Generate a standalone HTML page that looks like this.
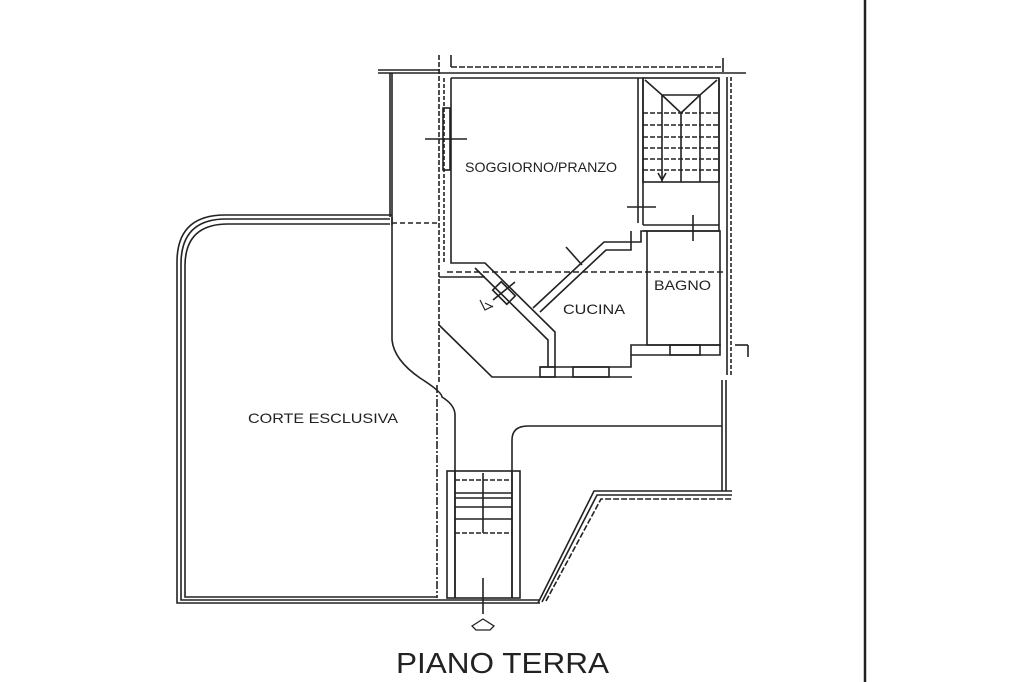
<!DOCTYPE html>
<html><head><meta charset="utf-8"><style>
html,body{margin:0;padding:0;background:#fff;}
svg{display:block;}
text{font-family:"Liberation Sans",sans-serif;fill:#222;}
</style></head><body>
<svg width="1024" height="682" viewBox="0 0 1024 682" xmlns="http://www.w3.org/2000/svg">
<g fill="none" stroke="#222" stroke-width="1.6">
<line x1="865" y1="0" x2="865" y2="682" stroke-width="2.5"/>
<line x1="378" y1="73" x2="746" y2="73"/>
<line x1="378" y1="70" x2="440" y2="70"/>
<line x1="451" y1="67" x2="723" y2="67" stroke-dasharray="6 2"/>
<line x1="451" y1="55" x2="451" y2="67"/>
<line x1="723" y1="58" x2="723" y2="72"/>
<line x1="439" y1="55" x2="439" y2="383" stroke-dasharray="5 2"/>
<line x1="444" y1="78" x2="444" y2="263" stroke-dasharray="4 2"/>
<line x1="392" y1="73" x2="392" y2="340"/>
<line x1="390" y1="73" x2="390" y2="217"/>
<path d="M392 340 Q394 360 420 378 Q442 392 442 397 Q455 405 455 415 L455 598"/>
<path d="M451 78 L451 263 L468 263"/>
<path d="M451 78 L643 78 L643 225"/>
<path d="M638 78 L638 223"/>
<rect x="443" y="108" width="7" height="62"/>
<line x1="425" y1="139" x2="467" y2="139"/>
<line x1="627" y1="207" x2="656" y2="207"/>
<line x1="392" y1="223" x2="440" y2="223" stroke-dasharray="5 3"/>
<line x1="447" y1="272" x2="725" y2="272" stroke-dasharray="6 3"/>
<rect x="643" y="78" width="76" height="104"/>
<line x1="643" y1="225" x2="719" y2="225"/>
<line x1="643" y1="231" x2="719" y2="231"/>
<line x1="719" y1="78" x2="719" y2="231"/>
<g stroke-dasharray="5 2">
<line x1="643" y1="113" x2="719" y2="113"/>
<line x1="643" y1="125" x2="719" y2="125"/>
<line x1="643" y1="137" x2="719" y2="137"/>
<line x1="643" y1="148" x2="719" y2="148"/>
<line x1="643" y1="159" x2="719" y2="159"/>
<line x1="643" y1="170" x2="719" y2="170"/>
</g>
<line x1="662" y1="95" x2="662" y2="182"/>
<line x1="681" y1="113" x2="681" y2="182"/>
<line x1="700" y1="95" x2="700" y2="182"/>
<path d="M645 80 L662 95 L700 95 L717 80"/>
<path d="M662 95 L681 113 L700 95"/>
<path d="M658 173 L662 180 L666 173"/>
<line x1="693" y1="215" x2="693" y2="241"/>
<line x1="727" y1="77" x2="727" y2="375"/>
<line x1="731" y1="77" x2="731" y2="375" stroke-dasharray="4 2"/>
<line x1="735" y1="345" x2="748" y2="345"/>
<line x1="748" y1="345" x2="748" y2="357"/>
<rect x="647" y="231" width="73" height="114"/>
<path d="M631 355 L631 345 L720 345 L720 355 L631 355"/>
<rect x="670" y="345" width="30" height="10"/>
<path d="M468 263 L485 263 L555 332 L555 367"/>
<path d="M475 268 L548 340 L548 367"/>
<rect x="498" y="283" width="12" height="20" transform="rotate(-45 504 293)"/>
<line x1="493" y1="300" x2="515" y2="282"/>
<path d="M533 308 L604 242 L641 242 L641 231 L647 231"/>
<path d="M540 312 L606 250 L631 250 L631 231"/>
<line x1="566" y1="247" x2="582" y2="265"/>
<path d="M540 367 L631 367 L631 355"/>
<path d="M540 377 L632 377"/>
<rect x="540" y="367" width="15" height="10"/>
<rect x="573" y="367" width="36" height="10"/>
<path d="M439 277 L485 277"/>
<path d="M439 325 L492 377 L540 377"/>
<path d="M480 300 l5 10 l8 -4 M485 303 l8 4" stroke-width="1.2"/>
<path d="M392 215 L225 215 Q177 215 177 262 L177 603 L540 603"/>
<path d="M390 219 L226 219 Q181 219 181 264 L181 600 L540 600"/>
<path d="M390 224 L228 224 Q185 224 185 266 L185 597 L437 597"/>
<line x1="392" y1="217" x2="392" y2="225"/>
<path d="M538 603 L594 491 L732 491"/>
<path d="M542 602 L597 495 L732 495"/>
<path d="M546 601 L601 499 L732 499" stroke-dasharray="6 2"/>
<line x1="722" y1="380" x2="722" y2="491"/>
<line x1="726" y1="380" x2="726" y2="491"/>
<path d="M512 598 L512 440 Q512 426 528 426 L722 426"/>
<line x1="437" y1="385" x2="437" y2="598" stroke-dasharray="8 2 2 2"/>
<rect x="447" y="471" width="73" height="127"/>
<line x1="455" y1="471" x2="455" y2="598"/>
<line x1="512" y1="471" x2="512" y2="598"/>
<line x1="455" y1="480" x2="512" y2="480" stroke-dasharray="5 2"/>
<line x1="455" y1="493" x2="512" y2="493"/>
<line x1="455" y1="498" x2="512" y2="498"/>
<line x1="455" y1="507" x2="512" y2="507"/>
<line x1="455" y1="519" x2="512" y2="519"/>
<line x1="455" y1="533" x2="512" y2="533" stroke-dasharray="5 2"/>
<line x1="483" y1="473" x2="483" y2="533"/>
<line x1="483" y1="578" x2="483" y2="614"/>
<path d="M472 626 L483 619 L494 626 L490 630 L476 630 Z" stroke-width="1.3"/>
</g>
<text x="465" y="172" font-size="14" textLength="152" lengthAdjust="spacingAndGlyphs">SOGGIORNO/PRANZO</text>
<text x="563" y="314" font-size="14" textLength="62" lengthAdjust="spacingAndGlyphs">CUCINA</text>
<text x="654" y="290" font-size="14" textLength="57" lengthAdjust="spacingAndGlyphs">BAGNO</text>
<text x="248" y="423" font-size="14" textLength="150" lengthAdjust="spacingAndGlyphs">CORTE ESCLUSIVA</text>
<text x="396" y="673" font-size="29" textLength="213" lengthAdjust="spacingAndGlyphs">PIANO TERRA</text>
</svg>
</body></html>
